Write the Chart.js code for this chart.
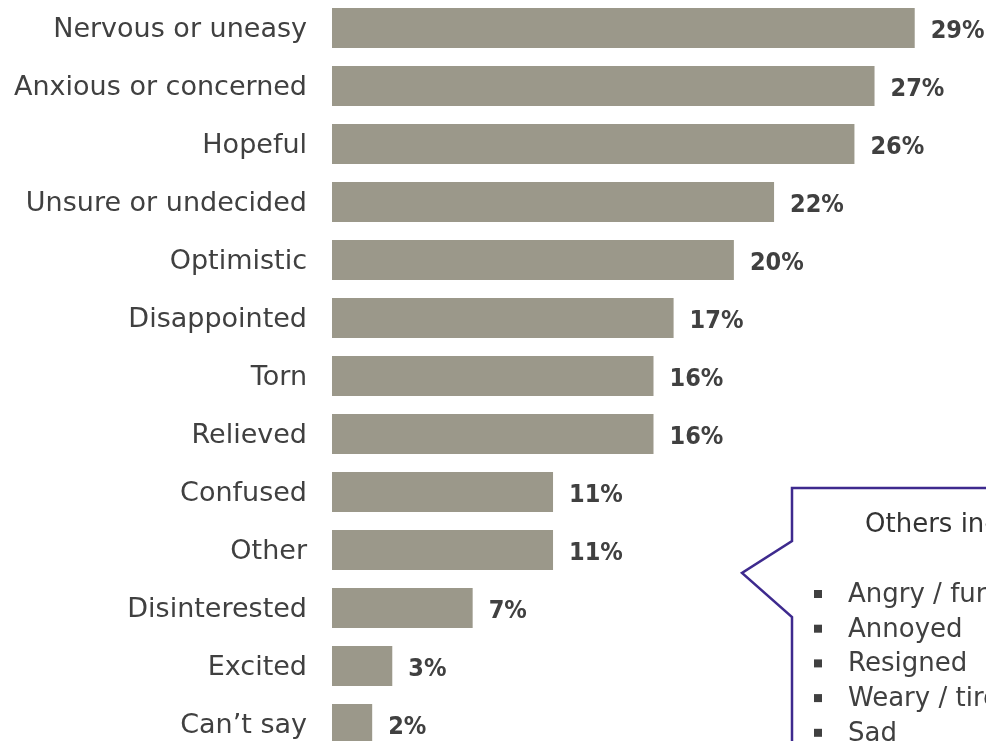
<!DOCTYPE html>
<html>
<head>
<meta charset="utf-8">
<script src="https://cdn.jsdelivr.net/npm/chart.js@4.4.0/dist/chart.umd.min.js"></script>
<style>
    html, body { margin: 0; padding: 0; background: #fff; overflow: hidden; }
    #wrap { position: relative; width: 1250px; height: 754px; margin-top: -1px; }
</style>
</head>
<body>
<div id="wrap"><canvas id="chart"></canvas></div>
<script>
// Chart data
const categories = [
    'Nervous or uneasy', 'Anxious or concerned', 'Hopeful', 'Unsure or undecided',
    'Optimistic', 'Disappointed', 'Torn', 'Relieved', 'Confused', 'Other',
    'Disinterested', 'Excited', 'Can\u2019t say'
];
const values = [29, 27, 26, 22, 20, 17, 16, 16, 11, 11, 7, 3, 2];

// Callout text
const othersTitle = 'Others include:';
const othersItems = ['Angry / furious', 'Annoyed', 'Resigned', 'Weary / tired', 'Sad'];

const BAR_COLOR = '#9b988a';
const TEXT_COLOR = '#404040';
const LABEL_FONT = '"DejaVu Sans"';

/**
 * Draws the bold percentage labels at the end of each bar
 */
const valueLabels = {
    id: 'valueLabels',
    afterDatasetsDraw(chart) {
        const ctx = chart.ctx;
        const meta = chart.getDatasetMeta(0);
        ctx.save();
        ctx.font = 'bold 25px "DejaVu Sans Condensed", "DejaVu Sans"';
        ctx.fillStyle = TEXT_COLOR;
        ctx.textAlign = 'left';
        ctx.textBaseline = 'middle';
        meta.data.forEach((bar, i) => {
            ctx.fillText(values[i] + '%', bar.x + 16, bar.y + 3);
        });
        ctx.restore();
    }
};

/**
 * Draws the speech-bubble callout listing the other answers
 */
const othersCallout = {
    id: 'othersCallout',
    afterDraw(chart) {
        const ctx = chart.ctx;
        const left = 792, top = 489, right = 1240, bottom = 900;
        ctx.save();
        ctx.beginPath();
        ctx.moveTo(left, 542);
        ctx.lineTo(left, top);
        ctx.lineTo(right, top);
        ctx.lineTo(right, bottom);
        ctx.lineTo(left, bottom);
        ctx.lineTo(left, 618);
        ctx.lineTo(742, 574);
        ctx.closePath();
        ctx.fillStyle = '#ffffff';
        ctx.fill();
        ctx.lineWidth = 2.5;
        ctx.strokeStyle = '#3e2a8e';
        ctx.stroke();

        ctx.fillStyle = '#333333';
        ctx.textBaseline = 'alphabetic';
        ctx.font = '26px ' + LABEL_FONT;
        ctx.fillText(othersTitle, 865, 533);

        othersItems.forEach((item, i) => {
            const y = 603 + i * 34.7;
            ctx.fillStyle = '#404040';
            ctx.fillRect(814, y - 12, 8, 8);
            ctx.fillText(item, 848, y);
        });
        ctx.restore();
    }
};

const chart = new Chart(document.getElementById('chart'), {
    type: 'bar',
    data: {
        labels: categories,
        datasets: [{
            data: values,
            backgroundColor: BAR_COLOR,
            borderWidth: 0,
            barPercentage: 0.69,
            categoryPercentage: 1
        }]
    },
    options: {
        indexAxis: 'y',
        responsive: true,
        maintainAspectRatio: false,
        animation: false,
        layout: { padding: { left: 0, right: 275, top: 0, bottom: 0 } },
        plugins: {
            legend: { display: false },
            tooltip: { enabled: false }
        },
        scales: {
            x: {
                display: false,
                min: 0,
                max: 32
            },
            y: {
                afterFit: (scale) => {
                    scale.width = 332;
                    // keep the tick padding horizontal only
                    scale.paddingTop = 0;
                    scale.paddingBottom = 0;
                },
                grid: { display: false, drawTicks: false },
                border: { display: false },
                ticks: {
                    padding: 25,
                    labelOffset: 2,
                    color: TEXT_COLOR,
                    font: { family: LABEL_FONT, size: 27 }
                }
            }
        }
    },
    plugins: [valueLabels, othersCallout]
});
</script>
</body>
</html>
